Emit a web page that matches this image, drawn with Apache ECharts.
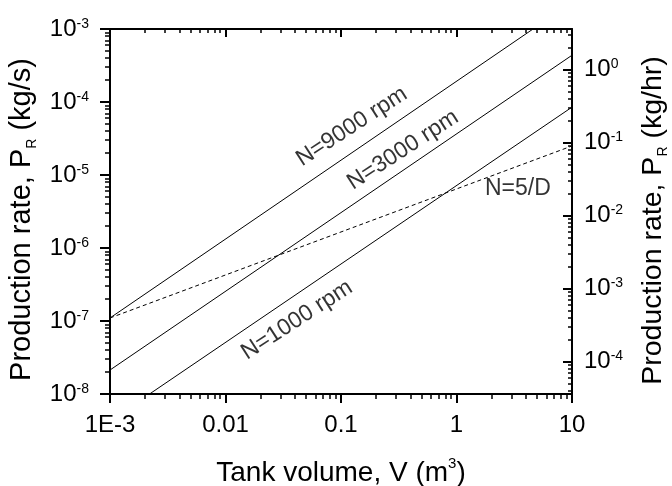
<!DOCTYPE html>
<html>
<head>
<meta charset="utf-8">
<script src="https://cdn.jsdelivr.net/npm/echarts@6/dist/echarts.min.js"></script>
<style>
html,body{margin:0;padding:0;background:#fff;}
#chart{width:672px;height:486px;}
</style>
</head>
<body>
<div id="chart"></div>
<script>
// ---- data ----
const xTickValues = [0.001, 0.01, 0.1, 1, 10];
const xTickLabels = ['1E-3', '0.01', '0.1', '1', '10'];
const yLeftTickValues = [1e-8, 1e-7, 1e-6, 1e-5, 1e-4, 1e-3];
const yRightTickValues = [1e-4, 1e-3, 1e-2, 1e-1, 1];

// line endpoints [V (m^3), P_R (kg/s)]
const line9000 = [[0.001, 1.1e-7], [4.6, 1e-3]];
const line3000 = [[0.001, 2.13e-8], [10, 4.37e-4]];
const line1000 = [[0.0022, 1e-8], [10, 8.5e-5]];
const line5D = [[0.001, 1.1e-7], [10, 2.5e-5]];

// annotation texts and their anchors (data coords)
const annoTexts = ['N=9000 rpm', 'N=3000 rpm', 'N=1000 rpm', 'N=5/D'];
const annoAnchors = [[0.124, 4.6e-5], [0.344, 2.2e-5], [0.0416, 1.03e-7], [3.4, 6.4e-6]];
const annoAngles = [33, 33, 33, 0];

const KG_S_TO_KG_HR = 3600;

function minorTicks(loExp, hiExp) {
  const out = [];
  for (let e = loExp; e <= hiExp; e++) {
    for (let m = 2; m <= 9; m++) out.push(+(m * Math.pow(10, e)).toPrecision(6));
  }
  return out;
}
const FONT = 'Liberation Sans, Arial, sans-serif';
const BLACK = '#000';
function expLabel(v) {
  const e = Math.round(Math.log10(v));
  return '{b|10}{s|' + e + '}';
}
const supRich = {
  b: { fontSize: 24, lineHeight: 24, fontFamily: FONT, color: BLACK },
  s: { fontSize: 14, lineHeight: 14, fontFamily: FONT, color: BLACK, verticalAlign: 'top' }
};

const leftMin = yLeftTickValues[0], leftMax = yLeftTickValues[yLeftTickValues.length - 1];
const rightMin = leftMin * KG_S_TO_KG_HR, rightMax = leftMax * KG_S_TO_KG_HR;
const xMin = xTickValues[0], xMax = xTickValues[xTickValues.length - 1];

function blankLabel(values) {
  return { show: true, customValues: values, formatter: function () { return ''; } };
}

const chart = echarts.init(document.getElementById('chart'), null, { renderer: 'canvas' });

function lineSeries(name, data, dashed) {
  return {
    name, type: 'line', data, xAxisIndex: 0, yAxisIndex: 0,
    symbol: 'none', silent: true, animation: false,
    lineStyle: dashed ? { color: BLACK, width: 1, type: [4, 3] } : { color: BLACK, width: 1 }
  };
}
// invisible anchor series so that the auxiliary (tick-only) axes are not blank
function anchorSeries(xi, yi, yMinVal) {
  return {
    type: 'scatter', xAxisIndex: xi, yAxisIndex: yi, symbolSize: 0, silent: true,
    itemStyle: { opacity: 0 }, data: [[xMin, yMinVal]]
  };
}

const nameSub = { fontSize: 14, lineHeight: 12, verticalAlign: 'bottom', fontFamily: FONT, color: BLACK };

const option = {
  animation: false,
  backgroundColor: '#fff',
  grid: { left: 110, right: 100, top: 29, bottom: 92, containLabel: false, outerBoundsMode: 'none' },
  xAxis: [
    {
      type: 'log', position: 'bottom', min: xMin, max: xMax,
      name: 'Tank volume, V (m{sup|3})', nameLocation: 'middle', nameGap: 62,
      nameTextStyle: {
        fontSize: 28, lineHeight: 35, fontFamily: FONT, color: BLACK,
        rich: { sup: { fontSize: 15, lineHeight: 16, verticalAlign: 'top', fontFamily: FONT, color: BLACK } }
      },
      axisLine: { show: true, onZero: false, lineStyle: { color: BLACK, width: 2 } },
      axisTick: { show: true, inside: false, length: 9, lineStyle: { color: BLACK, width: 2 }, customValues: xTickValues },
      axisLabel: {
        show: true, margin: 19, fontSize: 24, fontFamily: FONT, color: BLACK,
        customValues: xTickValues,
        formatter: function (v) {
          let best = 0;
          for (let i = 0; i < xTickValues.length; i++) {
            if (Math.abs(Math.log10(v) - Math.log10(xTickValues[i])) < Math.abs(Math.log10(v) - Math.log10(xTickValues[best]))) best = i;
          }
          return xTickLabels[best];
        }
      },
      splitLine: { show: false }
    },
    {
      type: 'log', position: 'bottom', min: xMin, max: xMax,
      axisLine: { show: false }, splitLine: { show: false },
      axisLabel: blankLabel(minorTicks(-3, 0)),
      axisTick: { show: true, inside: false, length: 5, lineStyle: { color: BLACK, width: 1.5 }, customValues: minorTicks(-3, 0) }
    },
    {
      type: 'log', position: 'top', min: xMin, max: xMax,
      axisLine: { show: true, onZero: false, lineStyle: { color: BLACK, width: 2 } }, splitLine: { show: false },
      axisLabel: blankLabel(xTickValues),
      axisTick: { show: true, inside: true, length: 8, lineStyle: { color: BLACK, width: 2 }, customValues: xTickValues }
    },
    {
      type: 'log', position: 'top', min: xMin, max: xMax,
      axisLine: { show: false }, splitLine: { show: false },
      axisLabel: blankLabel(minorTicks(-3, 0)),
      axisTick: { show: true, inside: true, length: 4, lineStyle: { color: BLACK, width: 1.5 }, customValues: minorTicks(-3, 0) }
    }
  ],
  yAxis: [
    {
      type: 'log', position: 'left', min: leftMin, max: leftMax,
      name: 'Production rate, P{sub|R} (kg/s)', nameLocation: 'middle', nameRotate: 90, nameGap: 68,
      nameTextStyle: {
        fontSize: 29, lineHeight: 34, fontFamily: FONT, color: BLACK, padding: [0, 16, 0, 0],
        rich: { sub: nameSub }
      },
      axisLine: { show: true, onZero: false, lineStyle: { color: BLACK, width: 2 } },
      axisTick: { show: true, inside: false, length: 10, lineStyle: { color: BLACK, width: 2 }, customValues: yLeftTickValues },
      axisLabel: { show: true, margin: 21, customValues: yLeftTickValues, formatter: expLabel, rich: supRich },
      splitLine: { show: false }
    },
    {
      type: 'log', position: 'left', min: leftMin, max: leftMax,
      axisLine: { show: false }, splitLine: { show: false },
      axisLabel: blankLabel(minorTicks(-8, -4)),
      axisTick: { show: true, inside: false, length: 5, lineStyle: { color: BLACK, width: 1.5 }, customValues: minorTicks(-8, -4) }
    },
    {
      type: 'log', position: 'right', min: rightMin, max: rightMax,
      name: 'Production rate, P{sub|R} (kg/hr)', nameLocation: 'middle', nameRotate: 90, nameGap: 64,
      nameTextStyle: {
        fontSize: 28.5, lineHeight: 34, fontFamily: FONT, color: BLACK, padding: [0, 18, 0, 0],
        rich: { sub: nameSub }
      },
      axisLine: { show: true, onZero: false, lineStyle: { color: BLACK, width: 2 } },
      axisTick: { show: true, inside: true, length: 9, lineStyle: { color: BLACK, width: 2 }, customValues: yRightTickValues },
      axisLabel: { show: true, margin: 12, customValues: yRightTickValues, formatter: expLabel, rich: supRich },
      splitLine: { show: false }
    },
    {
      type: 'log', position: 'right', min: rightMin, max: rightMax,
      axisLine: { show: false }, splitLine: { show: false },
      axisLabel: blankLabel(minorTicks(-5, 0)),
      axisTick: { show: true, inside: true, length: 4, lineStyle: { color: BLACK, width: 1.5 }, customValues: minorTicks(-5, 0) }
    }
  ],
  series: [
    lineSeries('N=9000 rpm', line9000, false),
    lineSeries('N=3000 rpm', line3000, false),
    lineSeries('N=1000 rpm', line1000, false),
    lineSeries('N=5/D', line5D, true),
    {
      type: 'scatter', xAxisIndex: 0, yAxisIndex: 0, symbolSize: 0, silent: true,
      data: annoAnchors.map((p, i) => ({
        value: p,
        label: {
          show: true, position: 'inside', formatter: annoTexts[i], rotate: annoAngles[i],
          fontSize: 23, fontFamily: FONT, color: BLACK, align: 'center', verticalAlign: 'middle'
        }
      }))
    },
    anchorSeries(1, 1, leftMin),
    anchorSeries(2, 2, rightMin),
    anchorSeries(3, 3, rightMin)
  ]
};
chart.setOption(option);
</script>
</body>
</html>
